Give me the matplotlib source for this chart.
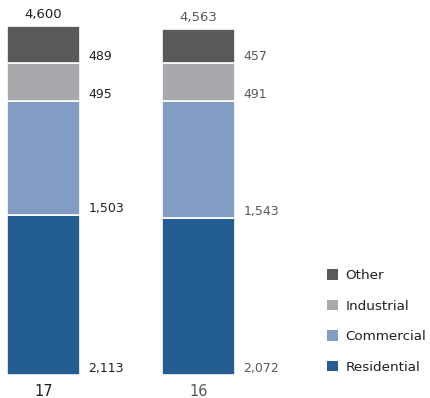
import numpy as np
import matplotlib
matplotlib.use('Agg')
import matplotlib.pyplot as plt
from matplotlib.patches import Patch

years = ['17', '16']
segments = ['Residential', 'Commercial', 'Industrial', 'Other']
residential = [2113, 2072]
commercial = [1503, 1543]
industrial = [495, 491]
other = [489, 457]
totals = [4600, 4563]

colors = ['#235d91', '#829cc4', '#a7a9ac', '#58595b']
text_colors = ['#231f20', '#58595b']

plt.rcParams['font.family'] = ['DejaVu Sans']

fig = plt.figure(figsize=(4.3, 3.98), dpi=100)
ax = fig.add_axes([0, 1 - 375 / 398, 1, 375 / 398])

x = np.arange(len(years))
width = 0.471
data = [residential, commercial, industrial, other]
bottom = np.zeros(len(years))
for vals, col in zip(data, colors):
    ax.bar(x, vals, width, bottom=bottom, color=col, edgecolor='white', linewidth=1.2)
    for i, v in enumerate(vals):
        ax.text(x[i] + width / 2 + 0.055, bottom[i], f'{v:,}', ha='left', va='bottom',
                fontsize=9, color=text_colors[i])
    bottom += np.array(vals)

for i, t in enumerate(totals):
    ax.text(x[i], t + 60, f'{t:,}', ha='center', va='bottom', fontsize=9.5, color=text_colors[i])
    ax.text(x[i], -120, years[i], ha='center', va='top', fontsize=10.5, color=text_colors[i],
            clip_on=False)

ax.set_xlim(-0.281, 2.494)
ax.set_ylim(0, 4943)
ax.axis('off')

handles = [Patch(facecolor=c, edgecolor='none') for c in colors[::-1]]
leg = fig.legend(handles, segments[::-1], loc='upper left', bbox_to_anchor=(327 / 430, 1 - 269 / 398),
                 frameon=False, fontsize=9.7, handlelength=0.82, handleheight=0.82,
                 handletextpad=0.55, labelspacing=1.3, borderpad=0, borderaxespad=0)
for t in leg.get_texts():
    t.set_color('#231f20')

fig.savefig('out.png', dpi=100)
